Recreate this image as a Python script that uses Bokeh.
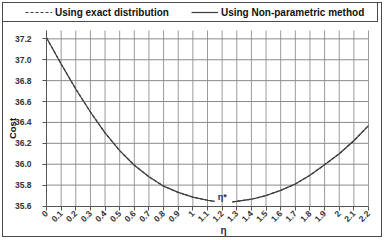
import math
from bokeh.plotting import figure
from bokeh.models import (FixedTicker, Label, Legend, LegendItem,
                          Range1d, NumeralTickFormatter)
from bokeh.embed import file_html
from bokeh.resources import INLINE

# ---- data ----
eta = [0.0, 0.1, 0.2, 0.3, 0.4, 0.5, 0.6, 0.7, 0.8, 0.9, 1.0, 1.1, 1.15,
       float("nan"),
       1.27, 1.3, 1.4, 1.5, 1.6, 1.7, 1.8, 1.9, 2.0, 2.1, 2.2]
cost_exact = [37.21, 36.96, 36.72, 36.50, 36.30, 36.13, 35.99, 35.88, 35.79, 35.73,
              35.685, 35.655, 35.645,
              float("nan"),
              35.64, 35.645, 35.665, 35.70, 35.75, 35.81, 35.895, 35.995, 36.10, 36.225, 36.37]
cost_nonparam = [37.21, 36.96, 36.72, 36.50, 36.30, 36.13, 35.99, 35.88, 35.79, 35.73,
                 35.685, 35.655, 35.645,
                 float("nan"),
                 35.64, 35.645, 35.665, 35.70, 35.75, 35.81, 35.895, 35.995, 36.10, 36.225, 36.37]
eta_star = 1.2
eta_star_cost = 35.69

x_ticks = [0.0, 0.1, 0.2, 0.3, 0.4, 0.5, 0.6, 0.7, 0.8, 0.9, 1.0, 1.1,
           1.2, 1.3, 1.4, 1.5, 1.6, 1.7, 1.8, 1.9, 2.0, 2.1, 2.2]
x_tick_labels = ["0", "0.1", "0.2", "0.3", "0.4", "0.5", "0.6", "0.7", "0.8", "0.9", "1",
                 "1.1", "1.2", "1.3", "1.4", "1.5", "1.6", "1.7", "1.8", "1.9", "2",
                 "2.1", "2.2"]
y_ticks = [35.6, 35.8, 36.0, 36.2, 36.4, 36.6, 36.8, 37.0, 37.2]

# ---- layout (pixels on the 386x240 canvas) ----
W, H = 386, 240
X_MIN, X_MAX = 0.0, 2.2          # axis extent
Y_MIN, Y_MAX = 35.6, 37.28
PX_L, PX_R, PX_T, PX_B = 46, 368, 30, 205.5   # plot area edges
KX = (PX_R - PX_L) / (X_MAX - X_MIN)
KY = (PX_B - PX_T) / (Y_MAX - Y_MIN)


def dx(px):
    return X_MIN + (px - PX_L) / KX


def dy(py):
    return Y_MIN + (PX_B - py) / KY


FONT = "Liberation Sans"
LINE = "#3c3c3c"
NAVY = "#1f2d5c"
BOX = "#4a4a4a"


def hline(x, y, w):
    return f"linear-gradient({BOX},{BOX}) {x}px {y}px / {w}px 1px no-repeat"


def vline(x, y, h):
    return f"linear-gradient({BOX},{BOX}) {x}px {y}px / 1px {h}px no-repeat"


frame_css = ", ".join([
    hline(2, 2, 380), hline(2, 236, 380), vline(2, 2, 235), vline(381, 2, 235),   # outer frame
    hline(2, 21, 376), vline(377, 2, 20),                                          # legend box
]) + ", white"

p = figure(width=W, height=H, output_backend="svg", toolbar_location=None,
           x_range=Range1d(dx(0), dx(W)), y_range=Range1d(dy(H), dy(0)),
           min_border_left=0, min_border_right=0, min_border_top=0, min_border_bottom=0)
p.styles = {"position": "absolute", "left": "0px", "top": "0px", "background": frame_css}
p.outline_line_color = None
p.background_fill_alpha = 0
p.border_fill_alpha = 0
p.xgrid.visible = False
p.ygrid.visible = False

for ax in (p.xaxis[0], p.yaxis[0]):
    ax.axis_line_color = "#555555"
    ax.major_tick_line_color = "#555555"
    ax.major_tick_in = 0
    ax.major_tick_out = 4
    ax.minor_tick_line_color = None
    ax.major_label_text_font = FONT
    ax.major_label_text_font_style = "bold"
    ax.major_label_text_font_size = "8.5px"
    ax.major_label_text_color = "#333333"

p.xaxis.fixed_location = Y_MIN
p.xaxis.bounds = (X_MIN, X_MAX)
p.xaxis.ticker = FixedTicker(ticks=x_ticks)
p.xaxis.major_label_overrides = dict(zip(x_ticks, x_tick_labels))
p.xaxis.major_label_orientation = math.pi / 4
p.xaxis.major_label_standoff = 2
p.yaxis.fixed_location = X_MIN
p.yaxis.bounds = (Y_MIN, Y_MAX)
p.yaxis.ticker = FixedTicker(ticks=y_ticks)
p.yaxis.formatter = NumeralTickFormatter(format="0.0")
p.yaxis.major_label_standoff = 11

# grid lines limited to the plot area
p.segment(x0=x_ticks[1:], y0=Y_MIN, x1=x_ticks[1:], y1=Y_MAX, line_color="#9a9a9a", line_width=1)
p.segment(x0=X_MIN, y0=y_ticks[1:], x1=X_MAX, y1=y_ticks[1:], line_color="#8a8a8a", line_width=1)

r_exact = p.line(eta, cost_exact, line_color=LINE, line_width=1.2, line_dash="3 2")
r_np = p.line(eta, cost_nonparam, line_color=LINE, line_width=1.2)

p.add_layout(Label(x=eta_star, y=eta_star_cost, text="η*", text_font=FONT,
                   text_font_style="bold", text_font_size="9px", text_color=NAVY,
                   text_align="center", text_baseline="middle"))

# axis titles
p.add_layout(Label(x=dx(12), y=dy(128), text="Cost", angle=math.pi / 2,
                   text_font=FONT, text_font_style="bold", text_font_size="9.5px",
                   text_color="#111111", text_align="center", text_baseline="middle"))
p.add_layout(Label(x=dx(223), y=dy(230), text="η",
                   text_font=FONT, text_font_style="bold", text_font_size="10px",
                   text_color=NAVY, text_align="center", text_baseline="middle"))

legend = Legend(items=[LegendItem(label="Using exact distribution", renderers=[r_exact]),
                       LegendItem(label="Using Non-parametric method", renderers=[r_np])],
                orientation="horizontal", location=(25, H - 17.5),
                border_line_color=None, background_fill_alpha=0,
                label_text_font=FONT, label_text_font_style="bold",
                label_text_font_size="10px", label_text_color="#111111",
                glyph_width=27, glyph_height=10, label_standoff=3, spacing=22,
                padding=0, margin=0, label_height=10)
p.add_layout(legend, "center")

open("out.html", "w").write(file_html(p, INLINE))
